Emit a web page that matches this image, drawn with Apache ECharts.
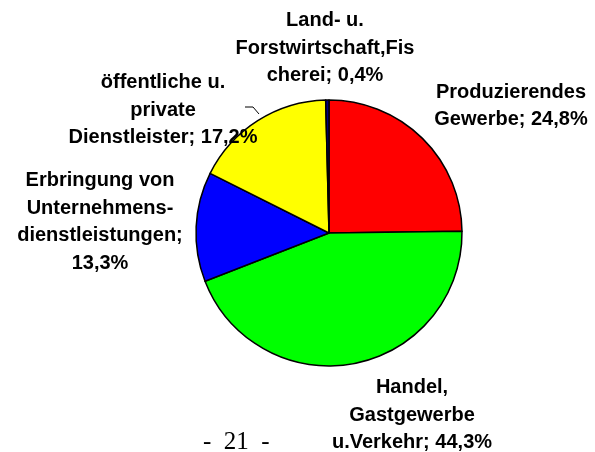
<!DOCTYPE html>
<html>
<head>
  <meta charset="utf-8">
  <title>Anteile</title>
  <script src="https://cdn.jsdelivr.net/npm/echarts@6/dist/echarts.min.js"></script>
</head>
<body style="margin:0;background:#fff">
  <div id="main" style="width:595px;height:452px;"></div>
  <script type="text/javascript">
    // Daten
    var categories = ['Produzierendes\nGewerbe', 'Handel,\nGastgewerbe\nu.Verkehr', 'Erbringung von\nUnternehmens-\ndienstleistungen', 'öffentliche u.\nprivate\nDienstleister', 'Land- u.\nForstwirtschaft,Fis\ncherei'];
    var values = [24.8, 44.3, 13.3, 17.2, 0.4];
    var separators = ['; ', '; ', ';\n', '; ', '; '];
    var colors = ['#ff0000', '#00ff00', '#0000ff', '#ffff00', '#000080'];

    // Label-Positionen (Mitte des Textblocks)
    var labelPos = [[511, 106], [412, 415], [100, 222], [163, 110], [325, 48]];

    var myChart = echarts.init(document.getElementById('main'));
    var data = categories.map(function (c, i) {
      var item = { name: c, value: values[i], itemStyle: { color: colors[i] } };
      if (i === 3) {
        item.labelLine = { show: true, lineStyle: { color: '#000', width: 1 } };
      }
      return item;
    });
    var option = {
      backgroundColor: '#fff',
      animation: false,
      title: {
        text: '-  21  -',
        left: 198,
        top: 425,
        textStyle: { fontFamily: 'Liberation Serif', fontWeight: 'normal', fontSize: 25, color: '#000' }
      },
      series: [{
        type: 'pie',
        center: [329, 233],
        radius: 133,
        startAngle: 90,
        clockwise: true,
        data: data,
        itemStyle: { borderColor: '#000', borderWidth: 1.5 },
        label: {
          show: true,
          position: 'outside',
          overflow: 'none',
          width: 300,
          fontFamily: 'Liberation Sans',
          fontWeight: 'bold',
          fontSize: 20,
          lineHeight: 27.5,
          color: '#000',
          align: 'center',
          formatter: function (p) {
            return p.name + separators[p.dataIndex] + String(p.value).replace('.', ',') + '%';
          }
        },
        labelLine: { show: false },
        labelLayout: function (p) {
          var pos = labelPos[p.dataIndex];
          var r = {
            x: pos[0],
            y: pos[1],
            align: 'center',
            verticalAlign: 'middle'
          };
          if (p.dataIndex === 3) {
            r.labelLinePoints = [[259, 114], [253, 107], [245, 107]];
          }
          return r;
        }
      }]
    };
    myChart.setOption(option);
  </script>
</body>
</html>
